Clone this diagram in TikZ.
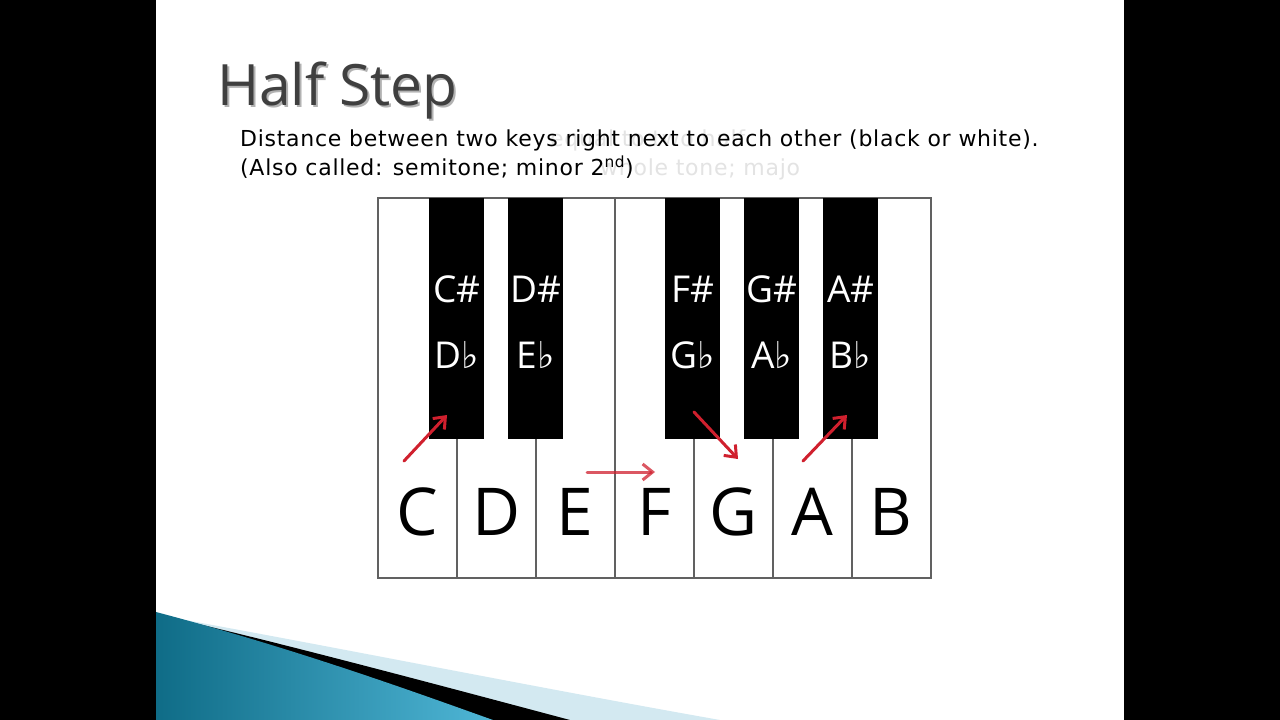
\documentclass[tikz,border=0pt]{standalone}
\usepackage{fontspec}
\usepackage{xcolor}
\setmainfont{DejaVu Sans}
\newfontfamily\titlefont{Open Sans}
\newfontfamily\keyfont{Open Sans}
\newfontfamily\symfont{DejaVu Sans}
\newfontfamily\bodyfont[LetterSpace=3.3]{DejaVu Sans}
\usetikzlibrary{arrows.meta}

\definecolor{titlegray}{HTML}{3F3F3F}
\definecolor{arrowred}{HTML}{D0202E}
\definecolor{swooshlight}{HTML}{D3E9F1}
\definecolor{swooshdark}{HTML}{0F6C87}
\definecolor{swooshmid}{HTML}{4FB6D6}

\newcommand{\fl}{{\symfont\char"266D}}

\begin{document}
\begin{tikzpicture}[x=1pt,y=-1pt,
    whitekey/.style={draw=black!62, line width=1.6pt, fill=white, minimum width=79pt,
      minimum height=380pt, anchor=north west, inner sep=0pt},
    blackkey/.style={fill=black, minimum width=55pt, minimum height=241pt,
      anchor=north west, inner sep=0pt},
    wlabel/.style={font=\keyfont\fontsize{66}{66}\selectfont, text=black, inner sep=0pt},
    blabel/.style={font=\keyfont\fontsize{37}{37}\selectfont, text=white, inner sep=0pt},
    halfarrow/.style={draw=arrowred, line width=3pt, line cap=round,
      -{Straight Barb[length=10pt,width=16pt,line width=3pt]}},
    bodytext/.style={anchor=base west, inner sep=0pt, font=\bodyfont\fontsize{22}{22}\selectfont},
    ghost/.style={bodytext, text=black!11}]
    \useasboundingbox (0,0) rectangle (1280,720);
    % slide
    \fill[black] (0,0) rectangle (156,720);
    \fill[black] (1124,0) rectangle (1280,720);
    \fill[white] (156,0) rectangle (1124,720);

    % bottom swoosh
    \fill[swooshlight] (185,620) .. controls (350,650) and (550,690) .. (720,720) -- (156,720) -- (156,614) -- cycle;
    \fill[black] (190,622) .. controls (300,648) and (450,688) .. (570,720) -- (156,720) -- (156,614) -- cycle;
    \shade[left color=swooshdark, right color=swooshmid]
      (156,612) .. controls (300,650) and (420,694) .. (493,720) -- (156,720) -- cycle;

    % title and text
    \node[anchor=base west, inner sep=0pt, text=black!30, font=\titlefont\fontsize{57}{57}\selectfont]
      (titleshadow) at (219,107) {Half Step};
    \node[anchor=base west, inner sep=0pt, text=titlegray, font=\titlefont\fontsize{57}{57}\selectfont]
      (title) at (217,105) {Half Step};
    \node[ghost] (ghostone) at (550,146) {equal to two half};
    \node[ghost] (ghosttwo) at (600,175) {whole tone; majo};
    \node[bodytext] (lineone) at (240,146) {Distance between two keys right next to each other (black or white).};
    \node[bodytext] (linetwo) at (240,175) {(Also called: semitone; minor 2\textsuperscript{nd})};

    % white keys
    \node[whitekey] (kC) at (377,197) {};
    \node[whitekey] (kD) at (456,197) {};
    \node[whitekey] (kE) at (535,197) {};
    \node[whitekey] (kF) at (614,197) {};
    \node[whitekey] (kG) at (693,197) {};
    \node[whitekey] (kA) at (772,197) {};
    \node[whitekey] (kB) at (851,197) {};

    % black keys
    \node[blackkey] (kCs) at (429,198) {};
    \node[blackkey] (kDs) at (508,198) {};
    \node[blackkey] (kFs) at (665,198) {};
    \node[blackkey] (kGs) at (744,198) {};
    \node[blackkey] (kAs) at (823,198) {};

    \coordinate (wrow) at (0,512);
    \coordinate (srow) at (0,289);
    \coordinate (frow) at (0,355);

    \node[wlabel] (tC) at (kC |- wrow) {C};
    \node[wlabel] (tD) at (kD |- wrow) {D};
    \node[wlabel] (tE) at (kE |- wrow) {E};
    \node[wlabel] (tF) at (kF |- wrow) {F};
    \node[wlabel] (tG) at (kG |- wrow) {G};
    \node[wlabel] (tA) at (kA |- wrow) {A};
    \node[wlabel] (tB) at (kB |- wrow) {B};

    \node[blabel] (tCs) at (kCs |- srow) {C\#};
    \node[blabel] (tDs) at (kDs |- srow) {D\#};
    \node[blabel] (tFs) at (kFs |- srow) {F\#};
    \node[blabel] (tGs) at (kGs |- srow) {G\#};
    \node[blabel] (tAs) at (kAs |- srow) {A\#};
    \node[blabel] (tDb) at (kCs |- frow) {D\fl};
    \node[blabel] (tEb) at (kDs |- frow) {E\fl};
    \node[blabel] (tGb) at (kFs |- frow) {G\fl};
    \node[blabel] (tAb) at (kGs |- frow) {A\fl};
    \node[blabel] (tBb) at (kAs |- frow) {B\fl};

    % half step arrows
    \coordinate (fromC) at (404,461);
    \coordinate (toCs) at (447,415);
    \coordinate (fromE) at (587,472);
    \coordinate (toF) at (655,472);
    \coordinate (fromFs) at (694,412);
    \coordinate (toG) at (738,459);
    \coordinate (fromA) at (803,461);
    \coordinate (toAs) at (847,415);
    \draw[halfarrow] (fromC) -- (toCs);
    \draw[halfarrow, draw opacity=0.75] (fromE) -- (toF);
    \draw[halfarrow] (fromFs) -- (toG);
    \draw[halfarrow] (fromA) -- (toAs);
  \end{tikzpicture}
\end{document}
